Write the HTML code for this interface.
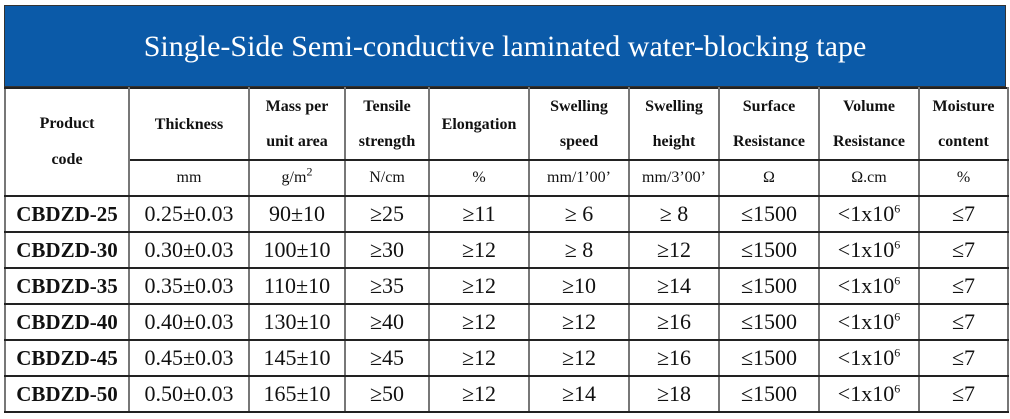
<!DOCTYPE html>
<html><head><meta charset="utf-8"><style>
html,body{margin:0;padding:0;background:#fff;width:1010px;height:419px;overflow:hidden}
.t{position:absolute;left:4px;top:5px;width:1002px;height:82px;background:#0b5aa8;color:#fff;font:30px "Liberation Serif",serif;text-align:center;line-height:82px;box-sizing:border-box;border:1px solid #333}
table{position:absolute;left:4px;top:87px;border-collapse:collapse;table-layout:fixed;width:1003px;font-family:"Liberation Serif",serif}
td{border:2px solid #222;border-left-color:#777;border-right-color:#777;text-align:center;padding:0;color:#111}
.h td{font-weight:bold;font-size:16px;line-height:35px}
.u td{font-size:16px;height:34px;line-height:1}
.d td{font-size:22px;height:34px;line-height:1}
.d td:first-child{font-weight:bold;font-size:21px}
sup{font-size:12px;line-height:0}
</style></head><body>
<div class="t">Single-Side Semi-conductive laminated water-blocking tape</div>
<table>
<colgroup><col style="width:124px"><col style="width:120px"><col style="width:96px"><col style="width:84px"><col style="width:100px"><col style="width:100px"><col style="width:90px"><col style="width:100px"><col style="width:100px"><col style="width:89px"></colgroup>
<tr class="h" style="height:72px"><td rowspan="2" style="line-height:36px">Product<br>code</td><td>Thickness</td><td>Mass per<br>unit area</td><td>Tensile<br>strength</td><td>Elongation</td><td>Swelling<br>speed</td><td>Swelling<br>height</td><td>Surface<br>Resistance</td><td>Volume<br>Resistance</td><td>Moisture<br>content</td></tr>
<tr class="u"><td>mm</td><td>g/m<sup>2</sup></td><td>N/cm</td><td>%</td><td>mm/1’00’</td><td>mm/3’00’</td><td>Ω</td><td>Ω.cm</td><td>%</td></tr>
<tr class="d"><td>CBDZD-25</td><td>0.25±0.03</td><td>90±10</td><td>≥25</td><td>≥11</td><td>≥ 6</td><td>≥ 8</td><td>≤1500</td><td>&lt;1x10<sup>6</sup></td><td>≤7</td></tr>
<tr class="d"><td>CBDZD-30</td><td>0.30±0.03</td><td>100±10</td><td>≥30</td><td>≥12</td><td>≥ 8</td><td>≥12</td><td>≤1500</td><td>&lt;1x10<sup>6</sup></td><td>≤7</td></tr>
<tr class="d"><td>CBDZD-35</td><td>0.35±0.03</td><td>110±10</td><td>≥35</td><td>≥12</td><td>≥10</td><td>≥14</td><td>≤1500</td><td>&lt;1x10<sup>6</sup></td><td>≤7</td></tr>
<tr class="d"><td>CBDZD-40</td><td>0.40±0.03</td><td>130±10</td><td>≥40</td><td>≥12</td><td>≥12</td><td>≥16</td><td>≤1500</td><td>&lt;1x10<sup>6</sup></td><td>≤7</td></tr>
<tr class="d"><td>CBDZD-45</td><td>0.45±0.03</td><td>145±10</td><td>≥45</td><td>≥12</td><td>≥12</td><td>≥16</td><td>≤1500</td><td>&lt;1x10<sup>6</sup></td><td>≤7</td></tr>
<tr class="d"><td>CBDZD-50</td><td>0.50±0.03</td><td>165±10</td><td>≥50</td><td>≥12</td><td>≥14</td><td>≥18</td><td>≤1500</td><td>&lt;1x10<sup>6</sup></td><td>≤7</td></tr>
</table>
</body></html>
